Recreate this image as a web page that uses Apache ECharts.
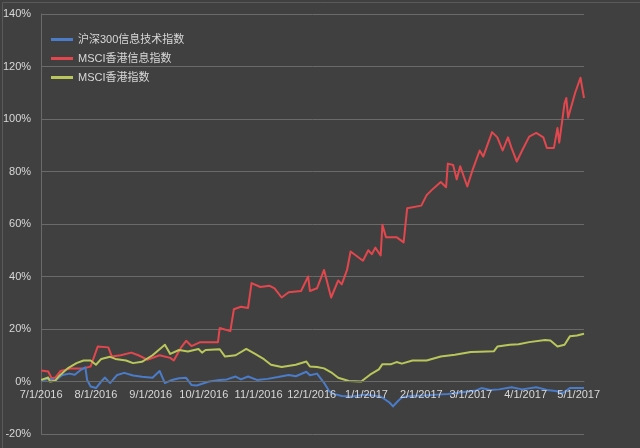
<!DOCTYPE html>
<html>
<head>
<meta charset="utf-8">
<script src="https://cdn.jsdelivr.net/npm/echarts@6/dist/echarts.min.js"></script>
<style>
html,body{margin:0;padding:0;background:#404040;}
#chart{width:640px;height:448px;}
</style>
</head>
<body>
<div id="chart"></div>
<script>
const seriesNames = ['沪深300信息技术指数', 'MSCI香港信息指数', 'MSCI香港指数'];
const yTicks = [-20, 0, 20, 40, 60, 80, 100, 120, 140];

const hs300It = [
['2016-07-01',0.5],['2016-07-06',1],['2016-07-09',0.4],['2016-07-13',2.5],['2016-07-17',3],['2016-07-20',2.6],
['2016-07-23',4.2],['2016-07-26',5.4],['2016-07-27',0.6],['2016-07-29',-1.9],['2016-08-01',-2.5],['2016-08-04',0],
['2016-08-06',1.5],['2016-08-09',-0.6],['2016-08-13',2.5],['2016-08-17',3.3],['2016-08-22',2.3],['2016-08-27',1.8],
['2016-09-02',1.4],['2016-09-06',4],['2016-09-09',-0.6],['2016-09-13',0.6],['2016-09-17',1.2],['2016-09-21',1.4],
['2016-09-24',-1.3],['2016-09-27',-1.5],['2016-10-04',0],['2016-10-10',0.6],['2016-10-14',0.8],['2016-10-19',1.9],
['2016-10-22',0.8],['2016-10-26',1.9],['2016-10-31',0.6],['2016-11-06',1.0],['2016-11-12',1.7],['2016-11-18',2.5],
['2016-11-22',2.0],['2016-11-28',3.7],['2016-11-30',2.4],['2016-12-04',3],['2016-12-08',-0.5],['2016-12-11',-3.8],
['2016-12-14',-4.8],['2016-12-18',-5.5],['2016-12-24',-5.7],['2016-12-31',-5],['2017-01-09',-5.7],['2017-01-14',-8],
['2017-01-16',-9.5],['2017-01-18',-8],['2017-01-21',-6],['2017-01-26',-5.5],['2017-02-03',-5.3],['2017-02-10',-5],
['2017-02-16',-4.8],['2017-02-23',-4.2],['2017-03-04',-3.4],['2017-03-07',-2.5],['2017-03-12',-3.2],['2017-03-17',-3],
['2017-03-24',-2.2],['2017-03-30',-3],['2017-04-07',-2.2],['2017-04-13',-3.2],['2017-04-18',-3.6],['2017-04-22',-4.4],
['2017-04-26',-2.5],['2017-05-04',-2.5]
];

const msciHkIt = [
['2016-07-01',4.2],['2016-07-05',3.8],['2016-07-07',1.2],['2016-07-09',1.5],['2016-07-12',4.0],['2016-07-18',5.0],
['2016-07-25',5.0],['2016-07-29',5.7],['2016-08-02',13.3],['2016-08-08',13.0],['2016-08-10',9.5],['2016-08-15',10],
['2016-08-21',11],['2016-08-25',10],['2016-08-30',8.3],['2016-09-06',10],['2016-09-12',9],['2016-09-14',8],
['2016-09-18',12.8],['2016-09-21',15.5],['2016-09-24',13.5],['2016-09-29',15],['2016-10-09',15],['2016-10-10',20.4],
['2016-10-16',19.2],['2016-10-18',27.5],['2016-10-22',28.5],['2016-10-26',28],['2016-10-28',37.5],['2016-11-02',36],
['2016-11-07',36.5],['2016-11-10',35.5],['2016-11-14',32],['2016-11-18',34],['2016-11-25',34.5],['2016-11-29',40],
['2016-11-30',34.5],['2016-12-04',35.5],['2016-12-08',42.5],['2016-12-12',32],['2016-12-16',38.5],['2016-12-18',37],
['2016-12-21',42.5],['2016-12-23',49.5],['2016-12-30',46],['2017-01-02',50],['2017-01-04',48.5],['2017-01-06',51],
['2017-01-09',48],['2017-01-10',59.7],['2017-01-12',55],['2017-01-18',55],['2017-01-22',53],['2017-01-24',66],
['2017-02-01',67],['2017-02-04',71],['2017-02-07',73],['2017-02-12',76],['2017-02-15',74],['2017-02-16',83],
['2017-02-19',82.5],['2017-02-21',77],['2017-02-23',82],['2017-02-27',74.3],['2017-03-02',80.6],['2017-03-06',88],
['2017-03-08',85.7],['2017-03-13',95],['2017-03-16',93],['2017-03-19',88],['2017-03-22',93],['2017-03-24',89],
['2017-03-27',83.8],['2017-03-30',88],['2017-04-03',93.3],['2017-04-07',94.7],['2017-04-11',93],['2017-04-13',89],
['2017-04-17',89],['2017-04-19',96.6],['2017-04-20',91],['2017-04-23',106],['2017-04-24',108],['2017-04-25',100.5],
['2017-04-26',101],['2017-04-29',110],['2017-05-02',115.7],['2017-05-04',108]
];

const msciHk = [
['2016-07-01',0.6],['2016-07-05',1.5],['2016-07-06',0],['2016-07-09',0.3],['2016-07-11',2],['2016-07-16',5],
['2016-07-21',7],['2016-07-25',8],['2016-07-29',8],['2016-08-01',6.4],['2016-08-04',8.6],['2016-08-09',9.4],
['2016-08-12',8.6],['2016-08-18',8],['2016-08-22',7],['2016-08-27',7.5],['2016-09-02',10],['2016-09-09',14],
['2016-09-12',10.5],['2016-09-17',12],['2016-09-22',11.4],['2016-09-28',12.4],['2016-09-30',11],['2016-10-02',12],
['2016-10-10',12.3],['2016-10-13',9.5],['2016-10-19',10],['2016-10-25',12.4],['2016-10-30',10.5],['2016-11-04',8.5],
['2016-11-08',6.4],['2016-11-14',5.5],['2016-11-22',6.4],['2016-11-28',7.6],['2016-11-30',5.7],['2016-12-04',5.5],
['2016-12-08',5.0],['2016-12-12',3.5],['2016-12-16',1.4],['2016-12-22',0.2],['2016-12-29',0],['2017-01-03',2.6],
['2017-01-08',4.6],['2017-01-10',6.6],['2017-01-15',6.6],['2017-01-18',7.4],['2017-01-21',6.8],['2017-01-27',8],
['2017-02-04',8],['2017-02-12',9.5],['2017-02-20',10.2],['2017-03-01',11.2],['2017-03-06',11.3],['2017-03-14',11.5],
['2017-03-16',13.3],['2017-03-23',14],['2017-03-28',14.2],['2017-04-03',15],['2017-04-12',15.8],['2017-04-15',15.6],
['2017-04-19',13.3],['2017-04-23',14],['2017-04-26',17.2],['2017-04-30',17.5],['2017-05-04',18.2]
];

const colors = ['#4a7cc9', '#e2474d', '#b9c75a'];
const gridColor = '#6a6a6a';
const textColor = '#d8d8d8';
const fontFamily = '"Liberation Sans", "Noto Sans CJK SC", sans-serif';

function toTime(s){ const p = s.split('-'); return new Date(+p[0], +p[1]-1, +p[2]).getTime(); }

const chart = echarts.init(document.getElementById('chart'));
chart.setOption({
  backgroundColor: '#404040',
  animation: false,
  color: colors,
  grid: {left: 36, right: 56, top: 14, bottom: 14, containLabel: false},
  legend: {
    orient: 'vertical', left: 46, top: 29, itemGap: 8,
    itemWidth: 22, itemHeight: 3, icon: 'rect',
    data: seriesNames,
    textStyle: {color: textColor, fontSize: 11, fontFamily: fontFamily}
  },
  xAxis: {
    type: 'time',
    min: toTime('2016-07-01'), max: toTime('2017-05-04'),
    minInterval: 28*24*3600*1000, maxInterval: 31*24*3600*1000,
    offset: -52.5,
    z: 10,
    axisLine: {show: true, onZero: false, lineStyle: {color: gridColor, width: 1}},
    axisTick: {show: false},
    splitLine: {show: false},
    axisLabel: {
      color: textColor, fontSize: 11, fontFamily: fontFamily, margin: 8,
      showMaxLabel: false, hideOverlap: false,
      formatter: function(v){ const d = new Date(v); return (d.getMonth()+1) + '/' + d.getDate() + '/' + d.getFullYear(); }
    }
  },
  yAxis: {
    type: 'value', min: yTicks[0], max: yTicks[yTicks.length-1], interval: 20,
    axisLine: {show: true, lineStyle: {color: gridColor}},
    axisTick: {show: false},
    splitLine: {lineStyle: {color: gridColor, width: 1}},
    axisLabel: {color: textColor, fontSize: 11, fontFamily: fontFamily, margin: 10, formatter: '{value}%'}
  },
  graphic: [{
    type: 'rect', left: 0, top: 0, silent: true,
    shape: {x: 0.5, y: 0.5, width: 638, height: 446},
    style: {fill: 'none', stroke: '#5a5a5a', lineWidth: 1}
  }],
  series: [
    {name: seriesNames[0], type: 'line', data: hs300It.map(d => [toTime(d[0]), d[1]]), showSymbol: false, lineStyle: {width: 2, join: 'round'}, z: 3},
    {name: seriesNames[1], type: 'line', data: msciHkIt.map(d => [toTime(d[0]), d[1]]), showSymbol: false, lineStyle: {width: 2, join: 'round'}, z: 2},
    {name: seriesNames[2], type: 'line', data: msciHk.map(d => [toTime(d[0]), d[1]]), showSymbol: false, lineStyle: {width: 2, join: 'round'}, z: 4}
  ]
});
</script>
</body>
</html>
